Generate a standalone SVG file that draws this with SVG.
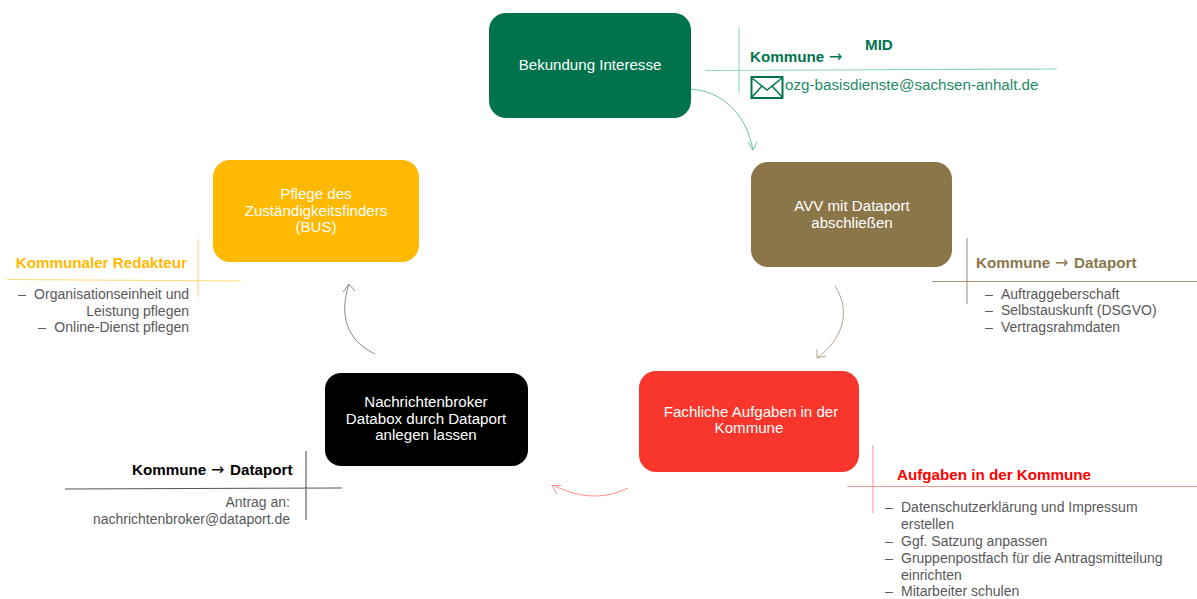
<svg xmlns="http://www.w3.org/2000/svg" width="1197" height="599" viewBox="0 0 1197 599">
<style>
text{font-family:"Liberation Sans",Arial,sans-serif}
.n{fill:#fff;font-size:15.1px;text-anchor:middle}
.h{font-size:15.2px;font-weight:bold}
.a{font-family:"DejaVu Sans",sans-serif;font-size:16px;font-weight:normal}
.b{fill:#58585a;font-size:14px}
.c{fill:none;stroke-width:1}
.d{stroke-width:1.100}
</style>
<rect width="1197" height="599" fill="#fff"/>
<g id="connectors">
<path class="c" stroke="#6cc4a8" d="M690 89C722 91 746 113 753 150M748 142L753 150L757 142"/>
<path class="c" stroke="#b3a484" d="M835 286C852 312 842 340 817 358M817 349L817 358L826 356"/>
<path class="c" stroke="#ff8f89" d="M628 488C604 500 578 498 553 485M561 485.500L552 485.500L557 494"/>
<path class="c" stroke="#8c8c8c" d="M375 354C346 340 339 315 349 284M343 292L349 284L355 291"/>
</g>
<g id="node-interesse">
<rect x="489" y="13" width="202" height="105" rx="17" fill="#00734d"/>
<text class="n" x="590" y="70">Bekundung Interesse</text>
</g>
<g id="node-avv">
<rect x="751" y="162" width="201" height="105" rx="17" fill="#8b764a"/>
<text class="n" x="852" y="211">AVV mit Dataport</text>
<text class="n" x="852" y="228">abschließen</text>
</g>
<g id="node-aufgaben">
<rect x="639" y="371" width="220" height="101" rx="17" fill="#f8362b"/>
<text class="n" x="751" y="417">Fachliche Aufgaben in der</text>
<text class="n" x="749" y="433">Kommune</text>
</g>
<g id="node-broker">
<rect x="325" y="373" width="203" height="93" rx="16" fill="#000"/>
<text class="n" x="426" y="407">Nachrichtenbroker</text>
<text class="n" x="426" y="424">Databox durch Dataport</text>
<text class="n" x="426" y="440">anlegen lassen</text>
</g>
<g id="node-pflege">
<rect x="213" y="160" width="206" height="102" rx="17" fill="#ffb900"/>
<text class="n" x="316" y="199">Pflege des</text>
<text class="n" x="316" y="216">Zuständigkeitsfinders</text>
<text class="n" x="316" y="232">(BUS)</text>
</g>
<g id="info-mid">
<path class="d" stroke="#8ed3bc" fill="none" d="M739 27V93M705 70.500L1057 69"/>
<text class="h" x="750" y="62" fill="#00734d">Kommune <tspan class="a" x="829">→</tspan></text>
<text class="h" x="865" y="50" fill="#00734d">MID</text>
<g fill="none" stroke="#00734d"><rect x="751.500" y="77" width="31" height="21" stroke-width="2"/><path stroke-width="1.500" d="M752 78L767 90L782 78M752 97L762 86M782 97L772 86"/></g>
<text x="785" y="90" font-size="15.200" fill="#1f8a68">ozg-basisdienste@sachsen-anhalt.de</text>
</g>
<g id="info-dataport">
<path class="d" stroke="#a8956f" fill="none" d="M967 238V304M932 281.500H1197"/>
<text class="h" x="976" y="268" fill="#8b764a">Kommune <tspan class="a" x="1055">→</tspan> <tspan x="1074">Dataport</tspan></text>
<text class="b" x="985" y="299">–</text><text class="b" x="1001" y="299">Auftraggeberschaft</text>
<text class="b" x="985" y="315">–</text><text class="b" x="1001" y="315">Selbstauskunft (DSGVO)</text>
<text class="b" x="985" y="332">–</text><text class="b" x="1001" y="332">Vertragsrahmdaten</text>
</g>
<g id="info-aufgaben">
<path class="d" stroke="#fb9a95" fill="none" d="M873 445V513M847 486.500H1197"/>
<text class="h" x="897" y="480" fill="#ff0000">Aufgaben in der Kommune</text>
<text class="b" x="885" y="512">–</text><text class="b" x="901" y="512">Datenschutzerklärung und Impressum</text>
<text class="b" x="901" y="529">erstellen</text>
<text class="b" x="885" y="546">–</text><text class="b" x="901" y="546">Ggf. Satzung anpassen</text>
<text class="b" x="885" y="563">–</text><text class="b" x="901" y="563">Gruppenpostfach für die Antragsmitteilung</text>
<text class="b" x="901" y="580">einrichten</text>
<text class="b" x="885" y="596">–</text><text class="b" x="901" y="596">Mitarbeiter schulen</text>
</g>
<g id="info-broker">
<path class="d" stroke="#555" fill="none" d="M306 451V520M65 489L342 488"/>
<text class="h" x="132" y="475" fill="#000">Kommune <tspan class="a" x="211">→</tspan> <tspan x="230">Dataport</tspan></text>
<text class="b" x="290" y="507" text-anchor="end">Antrag an:</text>
<text class="b" x="290" y="524" text-anchor="end">nachrichtenbroker@dataport.de</text>
</g>
<g id="info-redakteur">
<path class="d" stroke="#ffd975" fill="none" d="M198 239V297M7 279.500L241 281"/>
<text class="h" x="187" y="268" fill="#ffb900" text-anchor="end">Kommunaler Redakteur</text>
<text class="b" x="18" y="299">–</text><text class="b" x="189" y="299" text-anchor="end">Organisationseinheit und</text>
<text class="b" x="189" y="316" text-anchor="end">Leistung pflegen</text>
<text class="b" x="38" y="332">–</text><text class="b" x="189" y="332" text-anchor="end">Online-Dienst pflegen</text>
</g>
</svg>
